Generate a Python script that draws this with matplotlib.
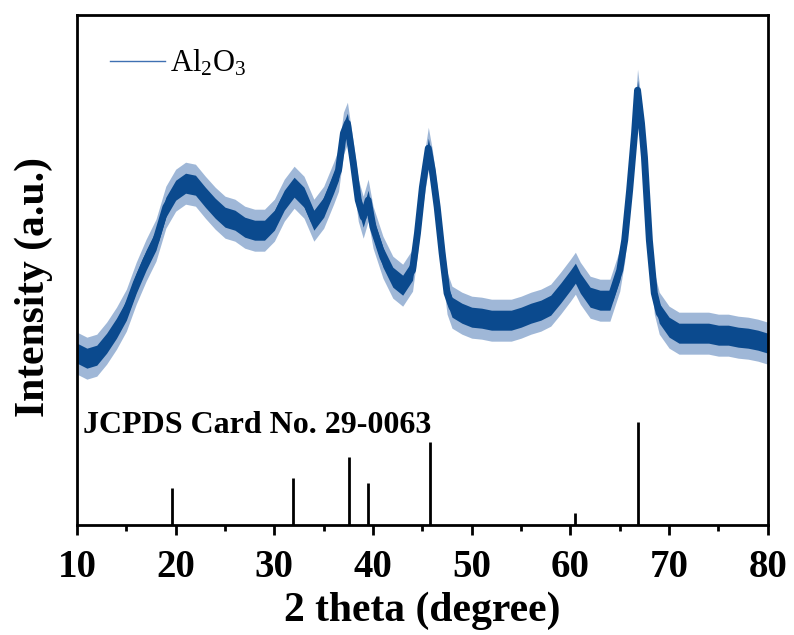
import numpy as np
import matplotlib.pyplot as plt
from matplotlib.lines import Line2D

plt.rcParams['font.family'] = ['Liberation Serif', 'DejaVu Serif']
plt.rcParams['mathtext.fontset'] = 'custom'
plt.rcParams['mathtext.rm'] = 'Liberation Serif'
plt.rcParams['mathtext.it'] = 'Liberation Serif'

# measured pattern: 2theta and mid-line of the noisy trace (arb. units)
two_theta = [10, 11, 12, 13, 14, 15, 16, 17, 18, 19, 20, 21, 22, 23, 24, 25,
             26, 27, 28, 29, 30, 31, 32, 33, 34, 35, 36, 36.5, 37, 37.4, 38,
             38.5, 39, 39.5, 40, 41, 42, 43, 44, 44.5, 45, 45.6, 46, 46.5, 47,
             47.5, 48, 49, 50, 51, 52, 53, 54, 55, 56, 57, 58, 59, 60, 60.5,
             61, 62, 63, 64, 65, 65.5, 66, 66.5, 66.8, 67.2, 67.5, 68, 68.5,
             69, 70, 71, 72, 73, 74, 75, 76, 77, 78, 79, 80]
intensity = [172, 167, 170, 182, 197, 215, 242, 265, 285, 318, 335, 342, 340,
             328, 317, 308, 305, 298, 295, 295, 305, 325, 338, 328, 305, 318,
             342, 355, 392, 402, 362, 325, 308, 325, 298, 268, 248, 240, 255,
             292, 338, 377, 355, 318, 272, 232, 218, 212, 208, 207, 205, 205,
             205, 208, 212, 215, 220, 232, 245, 252, 242, 228, 225, 225, 255,
             285, 335, 392, 435, 402, 368, 285, 232, 212, 198, 192, 192, 192,
             192, 190, 190, 188, 187, 185, 182]
noise_band = 10    # half width of the dense part of the trace
noise_spikes = 21  # half width reached by the spikes

# JCPDS 29-0063 reference lines
card_pos = [19.6, 31.9, 37.6, 39.5, 45.8, 60.5, 66.8]
card_int = [36, 46, 66, 41, 81, 12, 100]
card_scale = 1.03

dark = '#0b4a8e'
light = '#6088bd'

fig = plt.figure(figsize=(7.94, 6.35), dpi=100)
ax = fig.add_axes([0.097, 0.173, 0.870, 0.803])

x = np.array(two_theta)
y = np.array(intensity)
ax.fill_between(x, y - noise_spikes, y + noise_spikes, color=light, alpha=0.6, lw=0)
ax.fill_between(x, y - noise_band, y + noise_band, color=dark, lw=0)
# keeps the trace thick where it rises steeply
ax.plot(x, y, color=dark, lw=5, solid_joinstyle='round')

ax.vlines(card_pos, 0, np.array(card_int) * card_scale, color='black', lw=2)
ax.text(10.6, 92, 'JCPDS Card No. 29-0063', fontsize=23, fontweight='bold',
        va='baseline', ha='left')

handle = Line2D([], [], color='#3f70b2', lw=1)
ax.legend([handle], ['Al$_2$O$_3$'], loc='upper left', frameon=False,
          fontsize=22, handlelength=1.8, handletextpad=0.15,
          bbox_to_anchor=(0.008, 0.99))

ax.set_xlim(10, 80)
ax.set_ylim(0, 510)
ax.set_yticks([])
ax.set_xticks(range(10, 81, 10))
ax.set_xticks(range(15, 80, 10), minor=True)
ax.tick_params(axis='x', which='major', direction='out', length=7, width=2,
               labelsize=28, pad=10)
ax.tick_params(axis='x', which='minor', direction='out', length=4, width=2)
for lbl in ax.get_xticklabels():
    lbl.set_fontweight('bold')
for sp in ax.spines.values():
    sp.set_linewidth(2)

ax.set_xlabel('2 theta (degree)', fontsize=30, fontweight='bold', labelpad=4)
ax.set_ylabel('Intensity (a.u.)', fontsize=30, fontweight='bold')
ax.yaxis.set_label_coords(-0.035, 0.467)

fig.savefig('out.png', dpi=100)
